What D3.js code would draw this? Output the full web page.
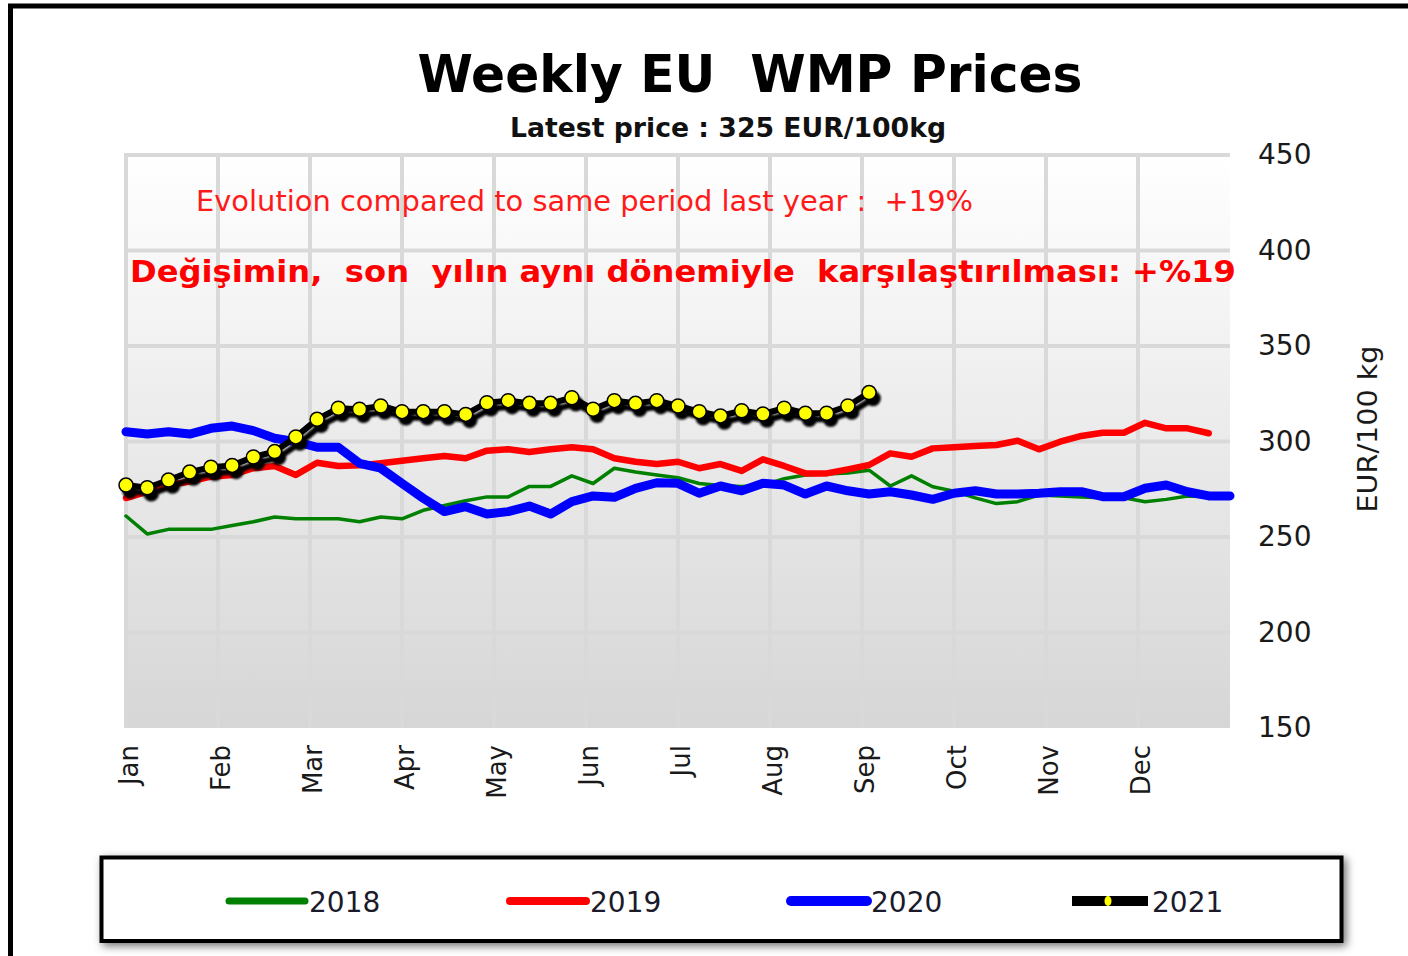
<!DOCTYPE html>
<html>
<head>
<meta charset="utf-8">
<script src="https://cdn.jsdelivr.net/npm/d3@7"></script>
<style>
  body { margin: 0; background: #fff; }
  svg { font-family: "DejaVu Sans", Verdana, sans-serif; }
  .keep { white-space: pre; }
</style>
</head>
<body>
<div class="wmpchart"></div>
<script>
// months on the x axis
const months = ["Jan","Feb","Mar","Apr","May","Jun","Jul","Aug","Sep","Oct","Nov","Dec"];
const yTicks = [150, 200, 250, 300, 350, 400, 450];

// weekly prices, EUR/100kg (week 0 = first week of Jan)
const y2018 = [261,251.6,254,254,254,256,258,260.5,259.5,259.5,259.5,258,260.5,259.5,264,266.5,
  269,271,271,276.5,276.5,282,278,286,284,282.5,281,278,277,276.5,277,280.5,282.5,283,283.5,285,
  276.7,282,276.3,274,270.5,267.5,268.5,272,271.5,271,270.5,270.5,268.5,269.7,271.5,271];
const y2019 = [270.4,273.7,277.2,279,281.6,282.5,286,287.2,282.5,288.9,287.2,287.5,288.6,289.9,291.2,
  292.4,291.2,295.2,295.9,294.5,295.9,297,295.9,291.2,289.4,288.2,289.4,286,288.2,284.6,290.7,287.2,
  283.3,283.3,285.4,287.7,293.8,292,296.4,297,297.6,298.2,300.4,295.9,299.9,302.9,304.6,304.6,
  309.8,306.9,306.9,304.3];
const y2020 = [305.1,303.9,305.1,303.9,306.9,308.1,305.7,301.7,299.9,297,297,288.6,286,278.1,270.3,
  263.3,265.9,262,263.3,266.2,262,268.5,271.5,270.8,275.5,278.4,278.1,272.9,276.7,274.2,278.1,277.2,
  272.5,276.7,274.2,272.5,273.7,272,269.7,272.9,274.2,272.5,272.5,272.9,273.7,273.7,271.1,271.1,
  275.5,277.2,273.7,271.5,271.5];
const y2021 = [277.2,275.8,279.8,284,286.5,287.5,291.9,294.7,302.4,311.6,317.4,316.9,318.6,315.6,
  315.6,315.6,314.2,320.3,321.4,320,320,322.9,316.9,321.4,320,321.4,318.6,315.6,313.4,316.1,314.4,
  317.4,314.8,314.8,318.6,325.6];

const series = [
  { key: "2018", values: y2018, color: "#008000", width: 3.5 },
  { key: "2019", values: y2019, color: "#ff0000", width: 6.5 },
  { key: "2020", values: y2020, color: "#0000ff", width: 9 },
  { key: "2021", values: y2021, color: "#000000", width: 6 }
];

const W = 1408, H = 956;
const plot = { left: 126, right: 1230, top: 155, bottom: 728 };

const svg = d3.select(".wmpchart")
  .append("svg")
  .attr("width", W)
  .attr("height", H);

const defs = svg.append("defs");

const grad = defs.append("linearGradient")
  .attr("id", "bg")
  .attr("x1", 0).attr("y1", 0).attr("x2", 0).attr("y2", 1);
grad.append("stop").attr("offset", "0%").attr("stop-color", "#ffffff");
grad.append("stop").attr("offset", "100%").attr("stop-color", "#d6d6d6");

defs.append("filter")
  .attr("id", "dotshadow")
  .attr("x", "-10%").attr("y", "-10%").attr("width", "130%").attr("height", "150%")
  .append("feDropShadow")
  .attr("dx", 4).attr("dy", 6).attr("stdDeviation", 1.3)
  .attr("flood-color", "#000").attr("flood-opacity", 1);

defs.append("filter")
  .attr("id", "boxshadow")
  .attr("x", "-5%").attr("y", "-40%").attr("width", "110%").attr("height", "180%")
  .append("feDropShadow")
  .attr("dx", 3).attr("dy", 3).attr("stdDeviation", 4)
  .attr("flood-color", "#000").attr("flood-opacity", 0.55);

// outer frame
svg.append("rect")
  .attr("x", 10.5).attr("y", 6)
  .attr("width", 1500).attr("height", 1000)
  .attr("fill", "none")
  .attr("stroke", "#000")
  .attr("stroke-width", 5);

// scales
let xScale = d3.scaleLinear().domain([0, 52]).range([plot.left, plot.right]);
let xMonth = d3.scaleLinear().domain([0, 12]).range([plot.left, plot.right]);
let yScale = d3.scaleLinear().domain([150, 450]).range([plot.bottom, plot.top]);

// plot background
svg.append("rect")
  .attr("x", plot.left - 2).attr("y", plot.top)
  .attr("width", plot.right - plot.left + 2)
  .attr("height", plot.bottom - plot.top)
  .attr("fill", "url(#bg)");

// grid
let grid = svg.append("g").attr("class", "grid");
grid.selectAll(".vg")
  .data(d3.range(12))
  .join("line")
  .attr("class", "vg")
  .attr("x1", d => xMonth(d)).attr("x2", d => xMonth(d))
  .attr("y1", plot.top).attr("y2", plot.bottom)
  .attr("stroke", "#d9d9d9").attr("stroke-width", 4);
grid.selectAll(".hg")
  .data(yTicks.slice(1))
  .join("line")
  .attr("class", "hg")
  .attr("x1", plot.left - 2).attr("x2", plot.right)
  .attr("y1", d => yScale(d)).attr("y2", d => yScale(d))
  .attr("stroke", "#d9d9d9").attr("stroke-width", 4);

// title
svg.append("text")
  .attr("class", "keep")
  .attr("x", 750).attr("y", 92)
  .attr("text-anchor", "middle")
  .attr("font-size", 51).attr("font-weight", "bold")
  .attr("textLength", 665).attr("lengthAdjust", "spacingAndGlyphs")
  .text("Weekly EU  WMP Prices");

svg.append("text")
  .attr("x", 728).attr("y", 137)
  .attr("text-anchor", "middle")
  .attr("font-size", 27).attr("font-weight", "bold")
  .attr("fill", "#111")
  .attr("textLength", 436).attr("lengthAdjust", "spacingAndGlyphs")
  .text("Latest price : 325 EUR/100kg");

// annotations
svg.append("text")
  .attr("class", "keep")
  .attr("x", 196).attr("y", 211)
  .attr("font-size", 29)
  .attr("fill", "#ff1a1a")
  .attr("textLength", 777).attr("lengthAdjust", "spacingAndGlyphs")
  .text("Evolution compared to same period last year :  +19%");

svg.append("text")
  .attr("class", "keep")
  .attr("x", 130).attr("y", 282)
  .attr("font-size", 30).attr("font-weight", "bold")
  .attr("fill", "#ff0000")
  .attr("textLength", 1106).attr("lengthAdjust", "spacingAndGlyphs")
  .text("Değişimin,  son  yılın aynı dönemiyle  karşılaştırılması: +%19");

// axes
let yAxis = d3.axisRight(yScale).tickValues(yTicks).tickSize(0).tickPadding(28);
let yAxisGroup = svg.append("g")
  .attr("class", "axis y-axis")
  .attr("transform", `translate(${plot.right},0)`)
  .call(yAxis);
yAxisGroup.select(".domain").remove();
yAxisGroup.selectAll("text")
  .attr("font-size", 28)
  .attr("font-family", "DejaVu Sans")
  .attr("fill", "#1a1a1a");

let xAxis = d3.axisBottom(xMonth)
  .tickValues(d3.range(12))
  .tickFormat(i => months[i])
  .tickSize(0);
let xAxisGroup = svg.append("g")
  .attr("class", "axis x-axis")
  .attr("transform", `translate(0,${plot.bottom})`)
  .call(xAxis);
xAxisGroup.select(".domain").remove();
xAxisGroup.selectAll("text")
  .attr("font-size", 26)
  .attr("font-family", "DejaVu Sans")
  .attr("fill", "#1a1a1a")
  .attr("text-anchor", "end")
  .attr("transform", "translate(2,17) rotate(-90)")
  .attr("x", 0).attr("y", 0).attr("dy", "0.35em");

svg.append("text")
  .attr("transform", "translate(1377,429) rotate(-90)")
  .attr("text-anchor", "middle")
  .attr("font-size", 26)
  .attr("fill", "#1a1a1a")
  .attr("textLength", 167).attr("lengthAdjust", "spacingAndGlyphs")
  .text("EUR/100 kg");

// lines
let line = d3.line()
  .x((d, i) => xScale(i))
  .y(d => yScale(d));

let lines = svg.append("g").attr("class", "lines");
series.slice(0, 3).forEach(s => {
  lines.append("path")
    .datum(s.values)
    .attr("fill", "none")
    .attr("stroke", s.color)
    .attr("stroke-width", s.width)
    .attr("stroke-linejoin", "round")
    .attr("stroke-linecap", "round")
    .attr("d", line);
});

let cur = series[3];
let g21 = lines.append("g").attr("filter", "url(#dotshadow)");
g21.append("path")
  .datum(cur.values)
  .attr("fill", "none")
  .attr("stroke", "#000")
  .attr("stroke-width", cur.width)
  .attr("stroke-linejoin", "round")
  .attr("d", line);
g21.selectAll("circle")
  .data(cur.values)
  .join("circle")
  .attr("cx", (d, i) => xScale(i))
  .attr("cy", d => yScale(d))
  .attr("r", 7)
  .attr("fill", "#ffff00")
  .attr("stroke", "#000")
  .attr("stroke-width", 1.5);

// legend
let legend = svg.append("g").attr("class", "legend");
legend.append("rect")
  .attr("x", 101.5).attr("y", 857.5)
  .attr("width", 1240).attr("height", 83.5)
  .attr("fill", "#fff")
  .attr("stroke", "#000")
  .attr("stroke-width", 4)
  .attr("filter", "url(#boxshadow)");

let items = legend.selectAll(".item")
  .data(series)
  .join("g")
  .attr("class", "item")
  .attr("transform", (d, i) => `translate(${229 + i * 281},901)`);
items.append("line")
  .attr("x1", 0).attr("x2", 76)
  .attr("stroke", d => d.color)
  .attr("stroke-width", d => d.key === "2018" ? 7 : d.key === "2019" ? 8 : 10)
  .attr("stroke-linecap", d => d.key === "2021" ? "butt" : "round");
items.filter(d => d.key === "2021")
  .append("ellipse")
  .attr("cx", 36).attr("cy", 0)
  .attr("rx", 3.5).attr("ry", 5)
  .attr("fill", "#ffff00");
items.append("text")
  .attr("x", 80).attr("y", 11)
  .attr("font-size", 28)
  .attr("fill", "#1a1a2a")
  .text(d => d.key);
</script>
</body>
</html>
